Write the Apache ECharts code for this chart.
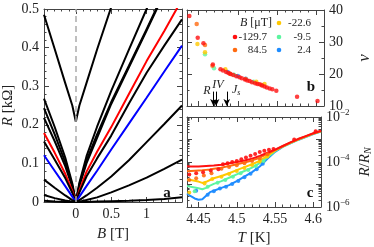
<!DOCTYPE html>
<html><head><meta charset="utf-8">
<script src="https://cdn.jsdelivr.net/npm/echarts@6/dist/echarts.min.js"></script>
<style>html,body{margin:0;padding:0;background:#fff}#c{width:374px;height:247px}</style>
</head><body><div id="c"></div>
<script>
const F = 'Liberation Serif';
// ---------- Panel a : R [kOhm] vs B [T] ----------
const aB = [-0.45,-0.3,-0.15,-0.05,0,0.05,0.15,0.3,0.5,0.75,1.0,1.25,1.5];
const aCusp = [0.485,0.397,0.308,0.25,0.208,0.25,0.308,0.395,0.505,0.65,0.8,0.95,1.1];
const aLineA = [0.268,0.195,0.115,0.048,0,0.05,0.118,0.195,0.288,0.395,0.5,0.6,0.7];
const aLineB = [0.243,0.176,0.103,0.043,0,0.045,0.107,0.175,0.259,0.353,0.448,0.545,0.64];
const aLineC = [0.218,0.158,0.093,0.039,0,0.042,0.1,0.166,0.254,0.349,0.444,0.541,0.636];
const aRed   = [0.179,0.128,0.073,0.029,0,0.03,0.078,0.13,0.194,0.28,0.365,0.443,0.525];
const aLineD = [0.157,0.11,0.062,0.024,0,0.025,0.066,0.113,0.172,0.255,0.335,0.405,0.473];
const aBlue  = [0.121,0.081,0.041,0.014,0,0.014,0.041,0.081,0.136,0.203,0.27,0.338,0.405];
const aLineE = [0.058,0.037,0.017,0.005,0,0.005,0.017,0.037,0.066,0.108,0.155,0.202,0.25];
const aLineF = [0.018,0.01,0.004,0.001,0,0.001,0.005,0.012,0.025,0.043,0.063,0.086,0.11];
const aLineG = [0.003,0.001,0,0,0,0,0,0.001,0.002,0.003,0.005,0.008,0.012];
const aCurves = [
  [aCusp,'#000'],[aLineA,'#000'],[aLineB,'#000'],[aLineC,'#000'],[aRed,'#ff0000'],
  [aLineD,'#000'],[aBlue,'#0000ff'],[aLineE,'#000'],[aLineF,'#000'],[aLineG,'#000']
];
const aXTicks = [0,0.5,1,1.5];
const aXLabels = [0,0.5,1];
const aYTicks = [0,0.1,0.2,0.3,0.4,0.5];
// ---------- Panel b : nu vs T ----------
const fieldNames = ['-129.7','84.5','-22.6','-9.5','2.4'];
const fieldColors = ['#ff1010','#ff6a10','#ffc800','#5cf5a0','#1e8cff'];
const bRedT  = [4.438,4.4487,4.456,4.468,4.4778,4.481,4.485,4.488,4.4906,4.494,4.498,4.5021,4.505,4.509,4.512,4.515,4.518,4.522,4.525,4.5278,4.531,4.534,4.537,4.5406,4.544,4.5491,4.5756,4.6017];
const bRedNu = [38.1,31.3,29.6,23.0,21.5,21.1,20.6,20.3,20.0,19.7,19.3,19.0,18.7,18.3,18.0,17.8,17.4,17.1,16.9,16.8,16.4,16.1,15.8,15.5,15.2,14.8,12.9,11.6];
const bOrT  = [4.4474,4.458,4.4675,4.49,4.51,4.53];
const bOrNu = [35.6,29.1,22.6,20.1,18.4,16.6];
const bYeT  = [4.4483,4.458,4.484,4.5235,4.534];
const bYeNu = [29.4,26.8,21.5,17.6,16.9];
const bGrT  = [4.458,4.4695,4.495,4.52];
const bGrNu = [26.2,21.8,19.8,17.6];
const bBlT  = [4.487,4.5,4.51];
const bBlNu = [20.6,19.4,18.5];
const bYTicks = [10,20,30,40];
const tTicks = [4.45,4.5,4.55,4.6];
// ---------- Panel c : R/RN vs T (log10 of the values read) ----------
const cT = [4.435,4.44,4.445,4.45,4.455,4.46,4.465,4.47,4.48,4.49,4.5,4.51,4.52,4.53,4.54,4.55,4.56,4.57,4.58,4.59,4.6,4.61];
const cRedLog = [-4.19,-4.2,-4.2,-4.2,-4.19,-4.18,-4.17,-4.16,-4.12,-4.06,-4.0,-3.93,-3.85,-3.73,-3.59,-3.45,-3.29,-3.13,-2.98,-2.85,-2.72,-2.61];
const cOrLog  = [-4.41,-4.4,-4.39,-4.38,-4.37,-4.35,-4.33,-4.3,-4.25,-4.18,-4.1,-4.02,-3.93,-3.81,-3.64,-3.47,-3.3,-3.14,-2.99,-2.86,-2.73,-2.62];
const cYeLog  = [-4.79,-4.8,-4.83,-4.87,-4.93,-4.88,-4.8,-4.72,-4.62,-4.5,-4.36,-4.23,-4.1,-3.95,-3.73,-3.5,-3.31,-3.15,-3.0,-2.87,-2.74,-2.63];
const cGrLog  = [-5.07,-5.1,-5.13,-5.17,-5.21,-5.15,-5.05,-4.97,-4.85,-4.7,-4.55,-4.4,-4.25,-4.05,-3.8,-3.52,-3.32,-3.16,-3.01,-2.88,-2.75,-2.64];
const cBlLog  = [-5.4,-5.52,-5.62,-5.68,-5.66,-5.5,-5.34,-5.28,-5.15,-5.03,-4.85,-4.65,-4.45,-4.2,-3.86,-3.55,-3.33,-3.17,-3.02,-2.89,-2.76,-2.65];
const cRedPtT = [4.438,4.447,4.456,4.466,4.476,4.482,4.488,4.494,4.5,4.506,4.512,4.518,4.524,4.53,4.536,4.542,4.548,4.575,4.603];
const cRedPtL = [-4.55,-4.5,-4.45,-4.38,-4.32,-4.1,-4.05,-4.0,-3.95,-3.88,-3.8,-3.72,-3.64,-3.55,-3.5,-3.46,-3.42,-3.0,-2.63];
const cOrPtT = [4.438,4.447,4.457,4.467,4.48,4.49,4.5,4.51,4.52,4.53,4.54];
const cOrPtL = [-4.8,-4.72,-4.6,-4.5,-4.3,-4.22,-4.14,-4.05,-3.96,-3.84,-3.66];
const cYePtT = [4.438,4.458,4.468,4.48,4.49,4.5,4.51,4.52,4.53,4.54];
const cYePtL = [-5.35,-4.95,-4.75,-4.66,-4.53,-4.4,-4.27,-4.13,-3.98,-3.76];
const cGrPtT = [4.445,4.462,4.475,4.485,4.495,4.505,4.515,4.525,4.535];
const cGrPtL = [-5.3,-5.1,-4.92,-4.8,-4.66,-4.5,-4.35,-4.18,-3.95];
const cBlPtT = [4.447,4.462,4.47,4.478,4.486,4.494,4.502,4.51,4.518,4.526,4.534];
const cBlPtL = [-5.28,-5.45,-5.3,-5.18,-5.1,-4.98,-4.84,-4.68,-4.52,-4.32,-4.08];
const cYTicks = [1e-6,1e-5,1e-4,1e-3,1e-2];
const cYLabels = [1e-6,1e-4,1e-2];

const cLines = [cRedLog,cOrLog,cYeLog,cGrLog,cBlLog];
const cPtT = [cRedPtT,cOrPtT,cYePtT,cGrPtT,cBlPtT];
const cPtL = [cRedPtL,cOrPtL,cYePtL,cGrPtL,cBlPtL];
const bT = [bRedT,bOrT,bYeT,bGrT,bBlT];
const bNu = [bRedNu,bOrNu,bYeNu,bGrNu,bBlNu];

// minor tick positions
const steps = (a,b,s) => { const r=[]; for (let v=a; v<=b+1e-9; v+=s) r.push(+v.toFixed(4)); return r; };
const aXMinor = steps(-0.4,1.5,0.1);
const aYMinor = steps(0,0.5,0.02);
const tMinor = steps(4.44,4.61,0.01);
const bYMinor = [15,25,35];
const cYMinor = []; for (let e=-6;e<-2;e++) for (let m=2;m<10;m++) cYMinor.push(m*Math.pow(10,e));

// ---------- Styles ----------
const AX = '#444';
const lineOn = {show:true, onZero:false, lineStyle:{color:AX, width:1}};
const lineOff = {show:false, onZero:false};
const lab = {fontFamily:F, fontSize:14, color:'#222'};
const italicName = (sz)=>({fontFamily:F, fontSize:sz, color:'#222', rich:{i:{fontFamily:F,fontSize:sz,fontStyle:'italic',color:'#222'}}});

function ax(kind, grid, pos, type, min, max, ticks, len, showLine, extra) {
  return Object.assign({
    type, gridIndex:grid, position:pos, min, max,
    axisLine: showLine ? lineOn : lineOff,
    axisTick:{show:true, inside:true, length:len, customValues:ticks, lineStyle:{color:AX, width:1}},
    axisLabel:{show:false}, splitLine:{show:false}, minorTick:{show:false}
  }, kind==='log'?{logBase:10}:{}, extra||{});
}
const xAxis = [
  ax('v',0,'bottom','value',-0.45,1.5,aXTicks,5,true,{
    axisLabel:{...lab, show:true, margin:5, customValues:aXLabels, formatter:v=>String(v)},
    name:'{i|B} [T]', nameLocation:'middle', nameGap:25, nameTextStyle:italicName(15)}),
  ax('v',0,'bottom','value',-0.45,1.5,aXMinor,2.5,false),
  ax('v',0,'top','value',-0.45,1.5,aXTicks,5,true),
  ax('v',0,'top','value',-0.45,1.5,aXMinor,2.5,false),
  // panel b (indices 4..7)
  ax('v',1,'bottom','value',4.435,4.61,tTicks,5,true),
  ax('v',1,'bottom','value',4.435,4.61,tMinor,2.5,false),
  ax('v',1,'top','value',4.435,4.61,tTicks,5,true),
  ax('v',1,'top','value',4.435,4.61,tMinor,2.5,false),
  // panel c (indices 8..11)
  ax('v',2,'bottom','value',4.435,4.61,tTicks,5,true,{
    axisLabel:{...lab, show:true, margin:5, customValues:tTicks, formatter:v=>String(v)},
    name:'{i|T} [K]', nameLocation:'middle', nameGap:24, nameTextStyle:italicName(15)}),
  ax('v',2,'bottom','value',4.435,4.61,tMinor,2.5,false),
  ax('v',2,'top','value',4.435,4.61,tTicks,5,true),
  ax('v',2,'top','value',4.435,4.61,tMinor,2.5,false)
];
const supRich = {b:{fontFamily:F, fontSize:14, color:'#222'}, s:{fontFamily:F, fontSize:9, color:'#222', padding:[0,0,9,0]}};
const yAxis = [
  ax('v',0,'left','value',0,0.5,aYTicks,5,true,{
    axisLabel:{...lab, show:true, margin:5, customValues:aYTicks, formatter:v=>String(v)},
    name:'{i|R} [kΩ]', nameLocation:'middle', nameGap:28, nameRotate:90, nameTextStyle:italicName(15)}),
  ax('v',0,'left','value',0,0.5,aYMinor,2.5,false),
  ax('v',0,'right','value',0,0.5,aYTicks,5,true),
  ax('v',0,'right','value',0,0.5,aYMinor,2.5,false),
  // panel b (4..7)
  ax('v',1,'right','value',10,40,bYTicks,5,true,{
    axisLabel:{...lab, show:true, margin:5, customValues:bYTicks, formatter:v=>String(v)},
    name:'{i|ν}', nameLocation:'middle', nameGap:32, nameRotate:90, nameTextStyle:italicName(17)}),
  ax('v',1,'right','value',10,40,bYMinor,2.5,false),
  ax('v',1,'left','value',10,40,bYTicks,5,true),
  ax('v',1,'left','value',10,40,bYMinor,2.5,false),
  // panel c (8..11)
  ax('log',2,'right','log',1e-6,1e-2,cYTicks,5,true,{
    axisLabel:{show:true, margin:5, customValues:cYLabels, formatter:v=>{const e=Math.round(Math.log10(v)); return '{b|10}{s|−'+(-e)+'}';}, rich:supRich},
    name:'{i|R}/{i|R}{s|N}', nameLocation:'middle', nameGap:36, nameRotate:90,
    nameTextStyle:{fontFamily:F, fontSize:15, color:'#222', rich:{i:{fontFamily:F,fontSize:15,fontStyle:'italic',color:'#222'}, s:{fontFamily:F,fontSize:10,fontStyle:'italic',color:'#222',padding:[6,0,0,0]}}}}),
  ax('log',2,'right','log',1e-6,1e-2,cYMinor,2.5,false),
  ax('log',2,'left','log',1e-6,1e-2,cYTicks,5,true),
  ax('log',2,'left','log',1e-6,1e-2,cYMinor,2.5,false)
];

const series = [];
aCurves.forEach(([vals,col],i)=>{
  series.push({type:'line', xAxisIndex:0, yAxisIndex:0, data:aB.map((b,j)=>[b,vals[j]]), showSymbol:false, symbol:'none',
    lineStyle:{color:col, width:2}, z:3, silent:true,
    markLine: i===0 ? {silent:true, symbol:'none', label:{show:false}, lineStyle:{color:'#aaa', type:[6,4], width:1.5}, data:[{xAxis:0}]} : undefined});
});
for (let k=4;k>=0;k--){
  series.push({type:'line', name:fieldNames[k], xAxisIndex:8, yAxisIndex:8, data:cT.map((t,j)=>[t,Math.pow(10,cLines[k][j])]),
    showSymbol:false, symbol:'none', lineStyle:{color:fieldColors[k], width:2}, itemStyle:{color:fieldColors[k]}, z:3, silent:true});
}
for (let k=4;k>=0;k--){
  series.push({type:'scatter', name:fieldNames[k], xAxisIndex:8, yAxisIndex:8, data:cPtT[k].map((t,j)=>[t,Math.pow(10,cPtL[k][j])]),
    symbolSize:4, itemStyle:{color:fieldColors[k], opacity:0.9}, z:4, silent:true});
}
for (let k=4;k>=0;k--){
  const s = {type:'scatter', name:fieldNames[k], xAxisIndex:4, yAxisIndex:4, data:bT[k].map((t,j)=>[t,bNu[k][j]]),
    symbolSize:4.5, itemStyle:{color:fieldColors[k]}, z:4, silent:true};
  if (k===0) {
    s.markLine = {silent:true, symbol:['none','arrow'], symbolSize:[5,7], label:{show:false}, lineStyle:{color:'#000', width:1, type:'solid'},
      data:[[{coord:[4.4688,14.5]},{coord:[4.4688,10]}],[{coord:[4.4722,14.5]},{coord:[4.4722,10]}],[{coord:[4.4858,14.5]},{coord:[4.4858,10]}]]};
  }
  series.push(s);
}

// legend keys (graphic) for panel b
const legend = [
  {name:'-129.7', k:0, cx:235, cy:37},
  {name:'84.5',   k:1, cx:235, cy:50},
  {name:'-22.6',  k:2, cx:279, cy:23},
  {name:'-9.5',   k:3, cx:279, cy:37},
  {name:'2.4',    k:4, cx:279, cy:50}
];
const gfx = [];
legend.forEach(l=>{
  gfx.push({type:'circle', shape:{cx:l.cx, cy:l.cy, r:2.3}, style:{fill:fieldColors[l.k]}, silent:true});
  gfx.push({type:'text', x:l.cx+32, y:l.cy, style:{text:l.name, fontFamily:F, fontSize:11, fill:'#222', align:'right', verticalAlign:'middle'}, silent:true});
});
gfx.push(
  {type:'text', x:240, y:23, style:{text:'{i|B} [μT]', rich:{i:{fontFamily:F,fontSize:12,fontStyle:'italic',fill:'#222'}}, fontFamily:F, fontSize:12, fill:'#222', verticalAlign:'middle'}},
  {type:'text', x:167, y:193, style:{text:'a', fontFamily:F, fontSize:15, fontWeight:'bold', fill:'#111', align:'center', verticalAlign:'middle'}},
  {type:'text', x:311, y:87, style:{text:'b', fontFamily:F, fontSize:15, fontWeight:'bold', fill:'#111', align:'center', verticalAlign:'middle'}},
  {type:'text', x:310, y:193, style:{text:'c', fontFamily:F, fontSize:15, fontWeight:'bold', fill:'#111', align:'center', verticalAlign:'middle'}},
  {type:'text', x:207, y:91, style:{text:'R', fontFamily:F, fontSize:12, fontStyle:'italic', fill:'#222', align:'center', verticalAlign:'middle'}},
  {type:'text', x:218, y:85, style:{text:'IV', fontFamily:F, fontSize:12, fontStyle:'italic', fill:'#222', align:'center', verticalAlign:'middle'}},
  {type:'text', x:232, y:90, style:{text:'{i|J}{s|s}', rich:{i:{fontFamily:F,fontSize:12,fontStyle:'italic',fill:'#222'}, s:{fontFamily:F,fontSize:8,fontStyle:'italic',fill:'#222',padding:[5,0,0,0]}}, verticalAlign:'middle'}}
);

const chart = echarts.init(document.getElementById('c'), null, {renderer:'canvas'});
chart.setOption({
  backgroundColor:'#fff', animation:false,
  grid:[
    {left:42, top:9, width:140, height:203},
    {left:187, top:10, width:139, height:96},
    {left:187, top:117, width:139, height:95}
  ],
  xAxis, yAxis, series, graphic:gfx
});
</script></body></html>
